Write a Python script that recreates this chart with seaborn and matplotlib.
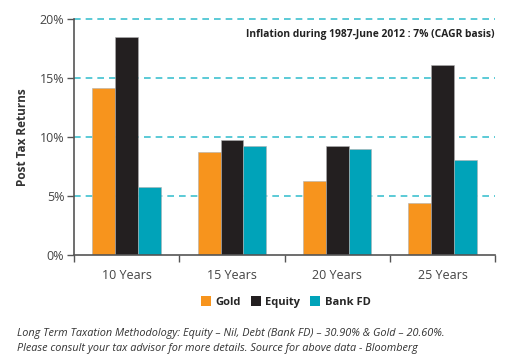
import matplotlib
matplotlib.use("Agg")
import matplotlib.pyplot as plt
import seaborn as sns
import pandas as pd
from matplotlib.ticker import FixedLocator, PercentFormatter
from matplotlib.patches import Patch

periods = ["10 Years", "15 Years", "20 Years", "25 Years"]
series = ["Gold", "Equity", "Bank FD"]
gold = [14.15, 8.75, 6.3, 4.4]
equity = [18.45, 9.75, 9.25, 16.1]
bank_fd = [5.75, 9.25, 9.0, 8.05]
colors = ["#f7941d", "#231f20", "#00a3b9"]

df = pd.DataFrame({
    "period": periods * 3,
    "series": [s for s in series for _ in periods],
    "value": gold + equity + bank_fd,
})

sns.set_style("white")
plt.rcParams["font.family"] = ["Open Sans", "DejaVu Sans"]

fig = plt.figure(figsize=(5.29, 3.61), dpi=100)
ax = fig.add_axes([0.140, 0.294, 0.796, 0.653])

sns.barplot(data=df, x="period", y="value", hue="series", palette=colors,
            width=0.65, saturation=1, ax=ax, edgecolor="#b0b0b0", linewidth=0.4,
            legend=False)

ax.set_ylim(0, 20)
ax.set_xlim(-0.5, 3.5)
ax.set_yticks([0, 5, 10, 15, 20])
ax.yaxis.set_major_formatter(PercentFormatter(decimals=0))
for y in [5, 10, 15, 20]:
    ax.axhline(y, color="#3fc1cf", linestyle=(0, (4, 3)), linewidth=1.2,
               zorder=0, clip_on=False)

for s in ["top", "right"]:
    ax.spines[s].set_visible(False)
for s in ["left", "bottom"]:
    ax.spines[s].set_color("#555555")
    ax.spines[s].set_linewidth(1.2)

ax.tick_params(axis="y", length=5, width=1.0, color="#555555", labelsize=9,
               labelcolor="#444444", direction="out", left=True, pad=2)
ax.tick_params(axis="x", which="major", length=0, labelsize=9,
               labelcolor="#444444", pad=10)
ax.xaxis.set_minor_locator(FixedLocator([-0.5, 0.5, 1.5, 2.5, 3.5]))
ax.tick_params(axis="x", which="minor", length=5, width=1.0, color="#555555",
               direction="out", bottom=True)

ax.set_xlabel("")
ax.set_ylabel("Post Tax Returns", fontsize=8.5, fontweight="bold",
              color="#333333", labelpad=8)

ax.text(0.998, 0.935, "Inflation during 1987-June 2012 : 7% (CAGR basis)",
        transform=ax.transAxes, ha="right", va="center", fontsize=7.4,
        fontweight="bold", color="#222222")

handles = [Patch(facecolor=c, edgecolor="none") for c in colors]
fig.legend(handles, series, loc="center", bbox_to_anchor=(0.54, 0.163),
           ncol=3, frameon=False, handlelength=0.9,
           handleheight=1.0, handletextpad=0.4, columnspacing=0.9,
           prop={"weight": "bold", "size": 8})

fig.text(0.032, 0.077,
         "Long Term Taxation Methodology: Equity \u2013 Nil, Debt (Bank FD) \u2013 30.90% & Gold \u2013 20.60%.",
         fontsize=7.8, style="italic", color="#333333", va="center")
fig.text(0.032, 0.036,
         "Please consult your tax advisor for more details. Source for above data - Bloomberg",
         fontsize=7.8, style="italic", color="#333333", va="center")

fig.savefig("out.png", dpi=100)
